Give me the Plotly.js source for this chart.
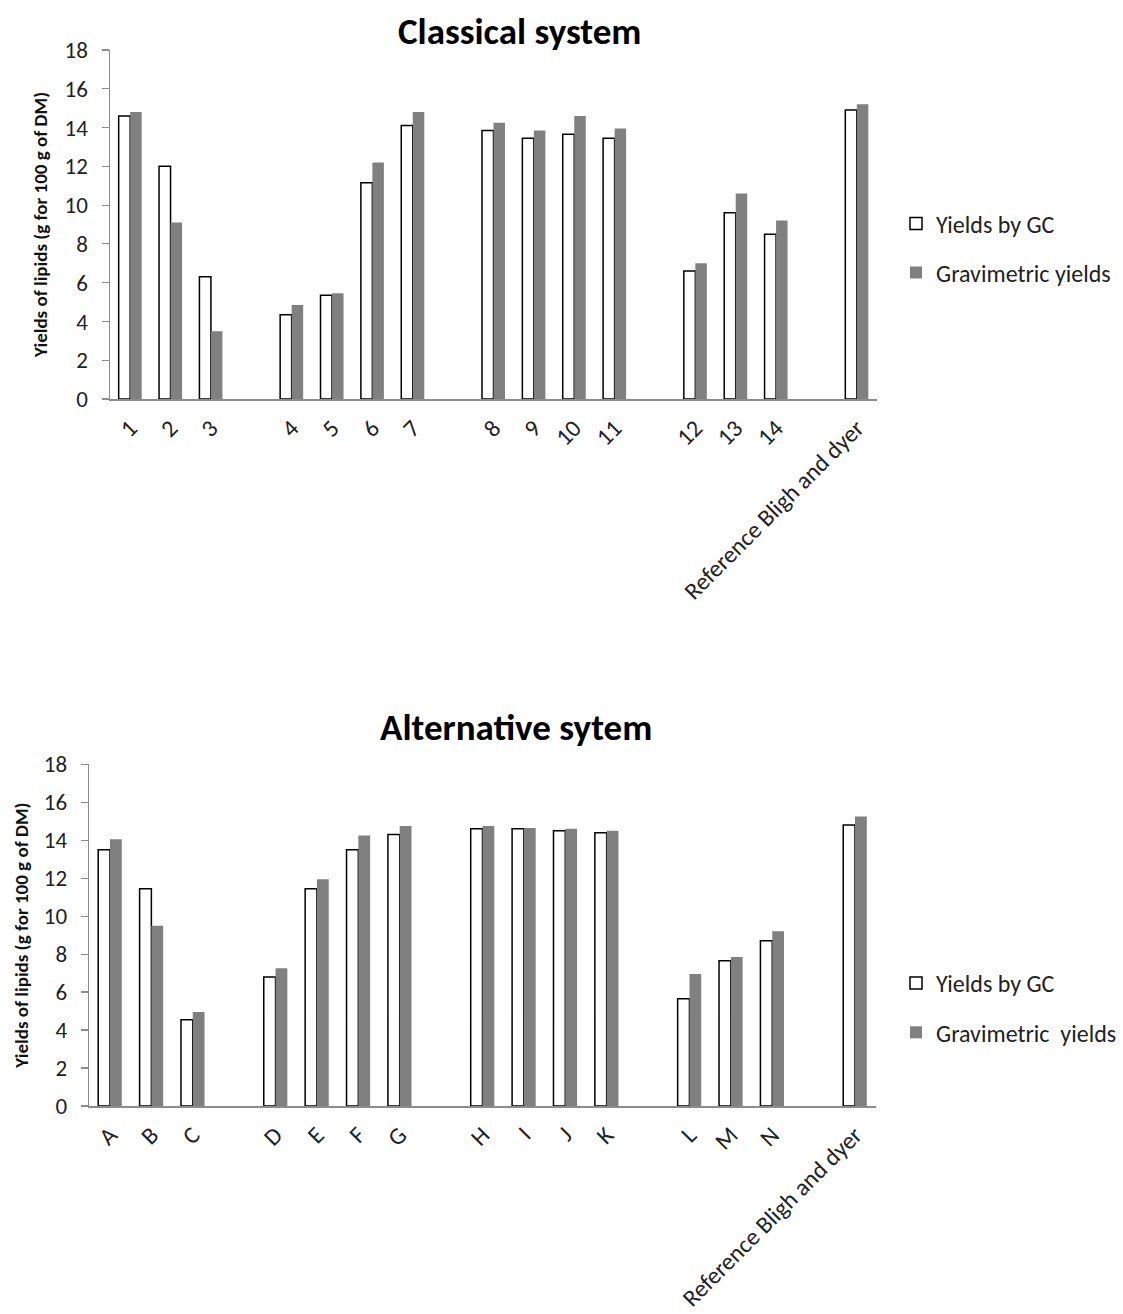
<!DOCTYPE html>
<html>
<head>
<meta charset="utf-8">
<script src="https://cdn.plot.ly/plotly-3.0.1.min.js"></script>
<style>html,body{margin:0;padding:0;background:#fff;}#chart{width:1123px;height:1314px;}</style>
</head>
<body>
<div id="chart"></div>
<script>
// ---- Data ----
const classicalLabels = ["1","2","3","","4","5","6","7","","8","9","10","11","","12","13","14","","Reference Bligh and dyer"];
const classicalGC     = [14.6,12.0,6.3,null,4.35,5.35,11.15,14.1,null,13.85,13.45,13.65,13.45,null,6.6,9.6,8.5,null,14.9];
const classicalGrav   = [14.8,9.1,3.5,null,4.85,5.45,12.2,14.8,null,14.25,13.85,14.6,13.95,null,7.0,10.6,9.2,null,15.2];

const altLabels = ["A","B","C","","D","E","F","G","","H","I","J","K","","L","M","N","","Reference Bligh and dyer"];
const altGC     = [13.5,11.45,4.55,null,6.8,11.45,13.5,14.3,null,14.6,14.6,14.5,14.4,null,5.65,7.65,8.7,null,14.8];
const altGrav   = [14.05,9.5,4.95,null,7.25,11.95,14.25,14.75,null,14.75,14.65,14.6,14.5,null,6.95,7.85,9.2,null,15.25];

const seriesNamesTop = ["Yields by GC","Gravimetric yields"];
const seriesNamesBottom = ["Yields by GC","Gravimetric  yields"];
const titles = ["Classical system","Alternative sytem"];
const yTitle = "Yields of lipids (g for 100 g of DM)";

// ---- Styling ----
const FONT = "Carlito, Lato, 'Open Sans', sans-serif";
const GRAY = "#808080";
const AXIS = "#8c8c8c";
const W = 1123, H = 1314;

const idx = arr => arr.map((_, i) => i);
const tickIdx = labels => labels.map((l, i) => l ? i : null).filter(v => v !== null);
const tickTxt = labels => labels.filter(l => l);

function gcTrace(labels, vals, name, xa, ya, leg, group) {
  return {type:"bar", x: idx(labels), y: vals, name, xaxis: xa, yaxis: ya, legend: leg, legendgroup: group,
    marker:{color:"#ffffff", line:{color:"#000000", width:1.5}}, hoverinfo:"y"};
}
function gravTrace(labels, vals, name, xa, ya, leg, group) {
  return {type:"bar", x: idx(labels), y: vals, name, xaxis: xa, yaxis: ya, legend: leg, legendgroup: group,
    marker:{color:GRAY, line:{color:GRAY, width:0}}, hoverinfo:"y"};
}

const data = [
  gcTrace(classicalLabels, classicalGC, seriesNamesTop[0], "x", "y", "legend", "a1"),
  gravTrace(classicalLabels, classicalGrav, seriesNamesTop[1], "x", "y", "legend", "a2"),
  gcTrace(altLabels, altGC, seriesNamesBottom[0], "x2", "y2", "legend2", "b1"),
  gravTrace(altLabels, altGrav, seriesNamesBottom[1], "x2", "y2", "legend2", "b2")
];

function xAxis(labels, dom, anchor) {
  return {domain: dom, anchor, range:[-0.5, labels.length - 0.5], tickmode:"array",
    tickvals: tickIdx(labels), ticktext: tickTxt(labels), tickangle:-45,
    showline:true, linecolor:AXIS, linewidth:1.5, ticks:"", showgrid:false, zeroline:false,
    ticklabelstandoff:4,
    tickfont:{family:FONT, size:24, color:"#222"}, automargin:false, fixedrange:true};
}
function yAxis(dom, anchor, standoff) {
  return {domain: dom, anchor, range:[0,18], dtick:2, tick0:0, showline:true, linecolor:AXIS, linewidth:1.5,
    ticks:"outside", ticklen:7, tickcolor:AXIS, tickwidth:1.2, showgrid:false, zeroline:false,
    ticklabelstandoff:9,
    tickfont:{family:FONT, size:23, color:"#222"}, automargin:false, fixedrange:true,
    title:{text:yTitle, font:{family:FONT, size:19, color:"#111", weight:"bold"}, standoff:standoff}};
}

const layout = {
  width: W, height: H,
  margin:{l:0, r:0, t:0, b:0, pad:0},
  paper_bgcolor:"#fff", plot_bgcolor:"#fff",
  barmode:"group", bargap:0.43, bargroupgap:0,
  xaxis: xAxis(classicalLabels, [110/W, 877/W], "y"),
  yaxis: yAxis([1-399/H, 1-50/H], "x", 12),
  xaxis2: xAxis(altLabels, [89.3/W, 875.7/W], "y2"),
  yaxis2: yAxis([1-1106/H, 1-764.3/H], "x2", 10),
  legend:{x:896/W, xanchor:"left", y:1-248.3/H, yanchor:"middle", traceorder:"grouped", tracegroupgap:15,
    font:{family:FONT, size:24, color:"#222"}, bgcolor:"rgba(0,0,0,0)"},
  legend2:{x:896/W, xanchor:"left", y:1-1008/H, yanchor:"middle", traceorder:"grouped", tracegroupgap:15,
    font:{family:FONT, size:24, color:"#222"}, bgcolor:"rgba(0,0,0,0)"},
  showlegend:true,
  annotations:[
    {text:titles[0], xref:"paper", yref:"paper", x:519/W, y:1-31.7/H, xanchor:"center", yanchor:"middle",
     showarrow:false, font:{family:FONT, size:37, color:"#000", weight:"bold"}},
    {text:titles[1], xref:"paper", yref:"paper", x:516/W, y:1-727/H, xanchor:"center", yanchor:"middle",
     showarrow:false, font:{family:FONT, size:37, color:"#000", weight:"bold"}}
  ]
};

Plotly.newPlot("chart", data, layout, {displayModeBar:false, staticPlot:true});
</script>
</body>
</html>
